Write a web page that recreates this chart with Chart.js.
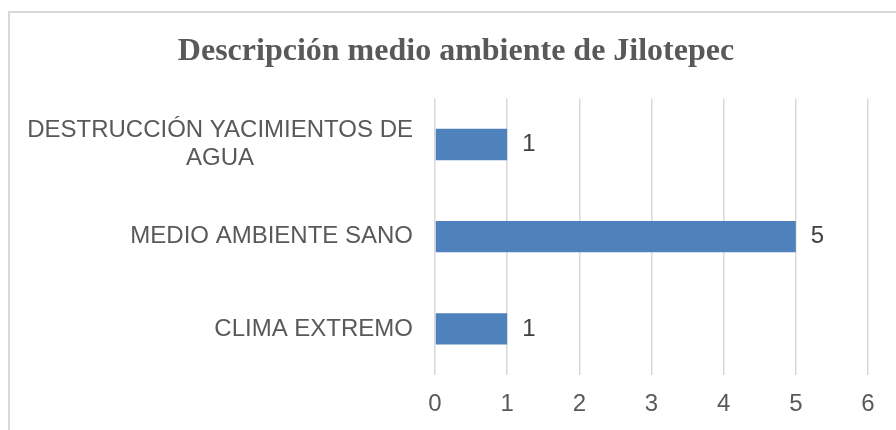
<!DOCTYPE html>
<html>
<head>
<meta charset="utf-8">
<script src="https://cdn.jsdelivr.net/npm/chart.js@4.4.1/dist/chart.umd.min.js"></script>
<style>
  html, body { margin: 0; padding: 0; background: #fff; overflow: hidden; }
  #wrap { position: relative; width: 896px; height: 430px; }
  #frame { position: absolute; left: 8px; top: 11px; width: 1000px; height: 1000px; border: 2px solid #d9d9d9; box-sizing: border-box; }
  #chart { position: absolute; left: 0; top: 0; }
</style>
</head>
<body>
<div id="wrap">
  <div id="frame"></div>
  <canvas id="chart" width="896" height="430"></canvas>
</div>
<script>
const chartTitle = "Descripción medio ambiente de Jilotepec";
const categories = [
  ["DESTRUCCIÓN YACIMIENTOS DE", "AGUA"],
  ["MEDIO AMBIENTE SANO"],
  ["CLIMA EXTREMO"]
];
const values = [1, 5, 1];
const xTicks = [0, 1, 2, 3, 4, 5, 6];

const labelFont = "24px 'Liberation Sans', Arial, sans-serif";

// category labels: block right-aligned, lines centred inside the block
const categoryLabels = {
  id: "categoryLabels",
  afterDraw(chart) {
    const ctx = chart.ctx;
    const yScale = chart.scales.y;
    const right = chart.chartArea.left - 22;
    ctx.save();
    ctx.font = labelFont;
    ctx.fillStyle = "#595959";
    ctx.textAlign = "center";
    ctx.textBaseline = "middle";
    categories.forEach((lines, i) => {
      const w = Math.max(...lines.map((l) => ctx.measureText(l).width));
      const cx = right - w / 2;
      const cy = yScale.getPixelForValue(i);
      const lh = 28;
      lines.forEach((l, j) => {
        ctx.fillText(l, cx, cy + (j - (lines.length - 1) / 2) * lh);
      });
    });
    ctx.restore();
  },
};

// value labels to the right of each bar
const valueLabels = {
  id: "valueLabels",
  afterDatasetsDraw(chart) {
    const ctx = chart.ctx;
    const meta = chart.getDatasetMeta(0);
    ctx.save();
    ctx.font = labelFont;
    ctx.fillStyle = "#404040";
    ctx.textAlign = "left";
    ctx.textBaseline = "middle";
    meta.data.forEach((bar, i) => {
      ctx.fillText(String(values[i]), bar.x + 15, bar.y);
    });
    ctx.restore();
  },
};

new Chart(document.getElementById("chart").getContext("2d"), {
  type: "bar",
  data: {
    labels: categories,
    datasets: [
      {
        data: values,
        backgroundColor: "#4f81bd",
        categoryPercentage: 1,
        barPercentage: 0.34,
      },
    ],
  },
  options: {
    indexAxis: "y",
    responsive: false,
    animation: false,
    layout: { padding: { left: 44, right: 28, top: 0, bottom: 0 } },
    scales: {
      x: {
        min: 0,
        max: 6,
        afterBuildTicks: (scale) => {
          scale.ticks = xTicks.map((v) => ({ value: v }));
        },
        afterFit: (scale) => {
          scale.height = 55;
        },
        grid: { color: "#d9d9d9", lineWidth: 1.5, drawTicks: false },
        border: { display: false },
        ticks: {
          padding: 15,
          color: "#595959",
          font: { family: "'Liberation Sans', Arial, sans-serif", size: 24 },
        },
      },
      y: {
        afterFit: (scale) => {
          scale.width = 391;
        },
        grid: { display: false },
        border: { display: false },
        ticks: { display: false },
      },
    },
    plugins: {
      legend: { display: false },
      tooltip: { enabled: false },
      title: {
        display: true,
        text: chartTitle,
        color: "#595959",
        font: { family: "'Liberation Serif', 'Times New Roman', serif", size: 32, weight: "bold" },
        padding: { top: 33, bottom: 27 },
      },
    },
  },
  plugins: [categoryLabels, valueLabels],
});
</script>
</body>
</html>
